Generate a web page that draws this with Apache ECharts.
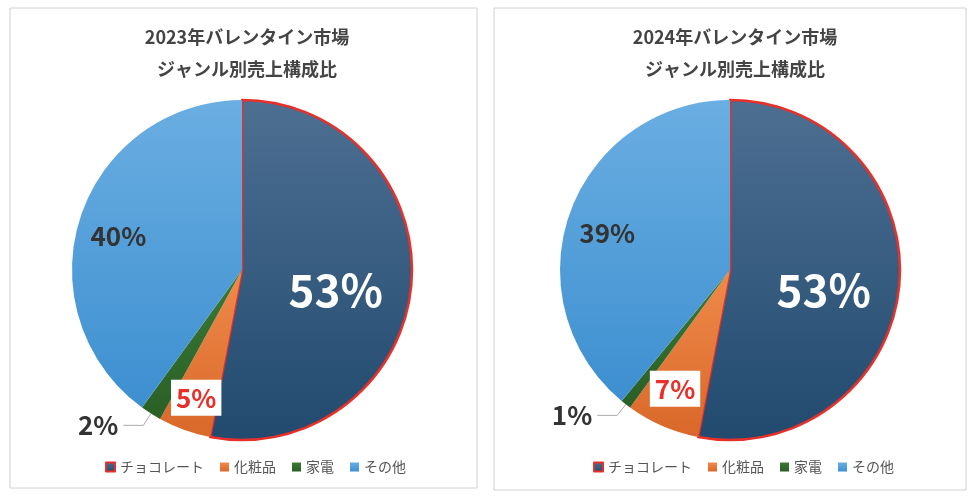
<!DOCTYPE html>
<html><head><meta charset="utf-8">
<script src="https://cdn.jsdelivr.net/npm/echarts@6/dist/echarts.min.js"></script>
<style>html,body{margin:0;background:#fff}#c{width:980px;height:496px}</style>
</head><body><div id="c"></div>
<script>
const names = ["チョコレート", "化粧品", "家電", "その他"];
const values2023 = [53, 5, 2, 40];
const values2024 = [53, 7, 1, 39];
const titles = ["2023年バレンタイン市場\nジャンル別売上構成比", "2024年バレンタイン市場\nジャンル別売上構成比"];

const font = "'Noto Sans CJK JP', sans-serif";
const grad = (a, b) => new echarts.graphic.LinearGradient(0, 0, 0, 1, [{offset: 0, color: a}, {offset: 1, color: b}]);
const colors = [grad("#4d6f92", "#214a6e"), grad("#ef8a4a", "#d9682a"), grad("#3b7a36", "#2a5f26"), grad("#6aaee2", "#3d8fd0")];

function makeData(vals, smallOffset) {
  return vals.map((v, i) => {
    const d = {name: names[i], value: v, itemStyle: {color: colors[i]}};
    if (i === 0) {
      d.itemStyle.borderColor = "#e8302a"; d.itemStyle.borderWidth = 2.5;
      d.label = {position: "inside", color: "#fff", fontSize: 44, offset: [6, 12]};
    } else if (i === 1) {
      d.label = {position: "inside", color: "#e8302a", fontSize: 26, backgroundColor: "#fff", padding: [5, 5], offset: smallOffset};
    } else if (i === 2) {
      d.label = {position: "outside", color: "#333", fontSize: 26};
      d.labelLine = {show: true, length: 14, length2: 20, lineStyle: {color: "#aaa"}};
    } else {
      d.label = {position: "inside", color: "#333", fontSize: 26, offset: [-40, -7]};
    }
    return d;
  });
}

function pie(vals, cx, smallOffset) {
  return {
    type: "pie", center: [cx, 270], radius: [0, 170], startAngle: 90, clockwise: true,
    label: {show: true, formatter: "{c}%", fontFamily: font, fontWeight: "bold"},
    labelLine: {show: false},
    emphasis: {disabled: true},
    data: makeData(vals, smallOffset)
  };
}

const chart = echarts.init(document.getElementById("c"));
chart.setOption({
  animation: false,
  title: titles.map((t, i) => ({
    text: t, left: i === 0 ? 242 : 730, top: 16, textAlign: "center",
    textStyle: {fontFamily: font, fontSize: 18, fontWeight: "bold", color: "#444", lineHeight: 32}
  })),
  legend: [0, 1].map(i => ({
    data: names, left: i === 0 ? 100 : 588, top: 455, itemWidth: 9, itemHeight: 9, itemGap: 16,
    icon: "rect", textStyle: {fontFamily: font, fontSize: 14, color: "#555"}
  })),
  graphic: [
    {type: "rect", shape: {x: 10, y: 8, width: 467, height: 480}, style: {fill: "none", stroke: "#d0d0d0", lineWidth: 1}},
    {type: "rect", shape: {x: 494, y: 8, width: 472, height: 482}, style: {fill: "none", stroke: "#d0d0d0", lineWidth: 1}}
  ],
  series: [pie(values2023, 242, [-16, 45]), pie(values2024, 730, [-20, 38])]
});
</script></body></html>
